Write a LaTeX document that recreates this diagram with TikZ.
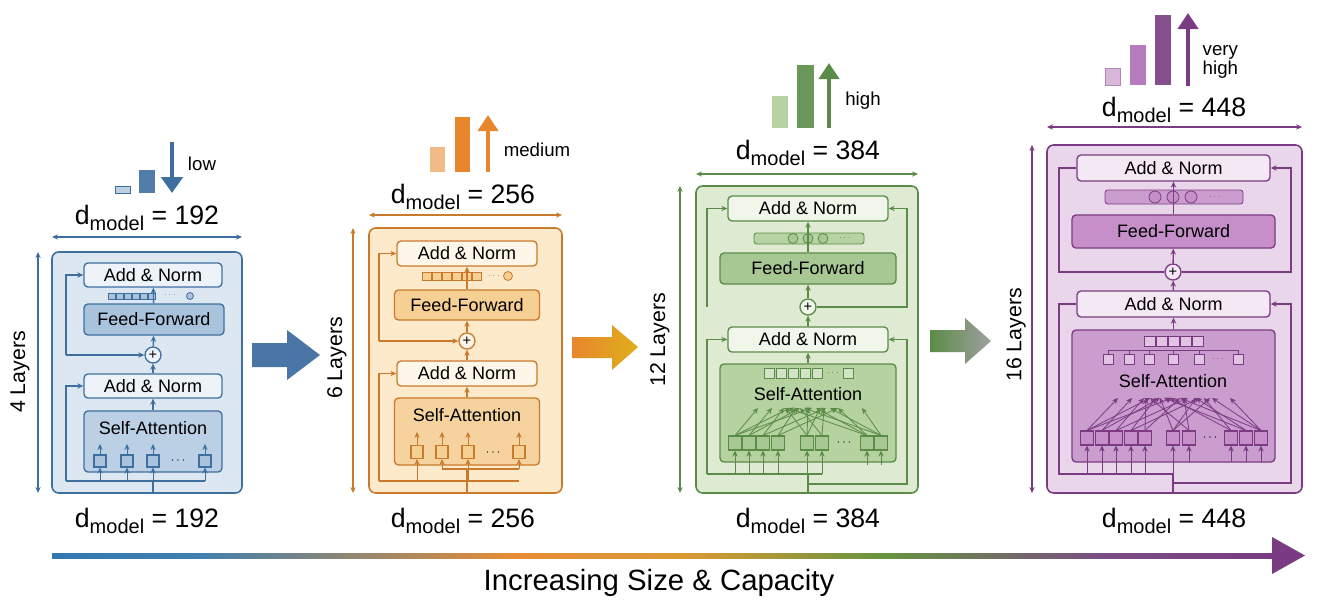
\documentclass[tikz,border=0pt]{standalone}
\usepackage{fontspec}
\setmainfont{Liberation Sans}
\usetikzlibrary{arrows.meta}
\definecolor{bD}{HTML}{3F6F9F}\definecolor{bO}{HTML}{DCE7F2}\definecolor{bA}{HTML}{EEF3F9}\definecolor{bF}{HTML}{A9C3DD}\definecolor{bS}{HTML}{BBD0E5}\definecolor{bL}{HTML}{BCD0E4}
\definecolor{oD}{HTML}{C97A2C}\definecolor{oO}{HTML}{FCEACB}\definecolor{oA}{HTML}{FEF6E8}\definecolor{oF}{HTML}{F6CF93}\definecolor{oS}{HTML}{F6D39E}\definecolor{oL}{HTML}{F2BB85}\definecolor{oB}{HTML}{E8862E}
\definecolor{gD}{HTML}{5B8C47}\definecolor{gO}{HTML}{DEEBD2}\definecolor{gA}{HTML}{F0F6EA}\definecolor{gF}{HTML}{A8C893}\definecolor{gS}{HTML}{B6D2A0}\definecolor{gL}{HTML}{B7D3A3}
\definecolor{pD}{HTML}{7A3B82}\definecolor{pO}{HTML}{EAD6EB}\definecolor{pA}{HTML}{F4E8F4}\definecolor{pF}{HTML}{C68FCA}\definecolor{pS}{HTML}{CB9DCF}\definecolor{pL}{HTML}{D9B6DB}\definecolor{pM}{HTML}{B57BBA}
\pgfdeclarehorizontalshading{rainbow}{100bp}{rgb(0bp)=(0.20,0.47,0.70); rgb(25bp)=(0.20,0.47,0.70); rgb(31bp)=(0.25,0.50,0.68); rgb(44bp)=(0.91,0.55,0.20); rgb(51bp)=(0.85,0.60,0.20); rgb(59bp)=(0.40,0.58,0.25); rgb(68bp)=(0.48,0.30,0.52); rgb(75bp)=(0.48,0.23,0.51); rgb(100bp)=(0.48,0.23,0.51)}
\newcommand{\dm}[1]{d\raisebox{-0.45ex}{\fontsize{15}{15}\selectfont model} = #1}
\tikzset{
 >={Stealth[length=4.5pt,width=4pt]},
 B/.style n args={2}{minimum width=#1*0.75pt, minimum height=#2*0.75pt, inner sep=0pt},
 box/.style={draw=#1D, rounded corners=3pt, line width=1pt},
 outer/.style={draw=#1D, fill=#1O, rounded corners=5pt, line width=1.2pt},
 an/.style={box=#1, fill=#1A, font=\fontsize{13.5}{14}\selectfont},
 ff/.style={box=#1, fill=#1F, font=\fontsize{13.5}{14}\selectfont},
 sa/.style={box=#1, fill=#1S},
 lbl/.style={font=\fontsize{13.5}{14}\selectfont},
 dmt/.style={font=\fontsize{20}{20}\selectfont},
 lay/.style={font=\fontsize{16}{16}\selectfont, rotate=90},
 capt/.style={font=\fontsize{14}{15}\selectfont, align=left},
 plus/.style={circle, draw=#1D, fill=#1A, line width=1pt, minimum size=16*0.75pt, inner sep=0pt, font=\fontsize{11}{11}\selectfont},
 sq/.style={draw=#1D, fill=#1F, line width=0.8pt, minimum size=10*0.75pt, inner sep=0pt},
 ln/.style={draw=#1D, line width=1pt},
 th/.style={draw=#1D, line width=0.6pt},
}
\begin{document}
\begin{tikzpicture}[x=0.75pt,y=-0.75pt]
\useasboundingbox (0,0) rectangle (1319,614);
% ===== bottom arrow
\shade[shading=rainbow] (52,553) rectangle (1275,558);
\fill[pD] (1272,537) -- (1305,555.5) -- (1272,574) -- cycle;
\node[font=\fontsize{22}{22}\selectfont] (title) at (659,583) {Increasing Size \& Capacity};
% ===== transition arrows
\fill[bD!95] (252,343) -- (287,343) -- (287,330) -- (320,355) -- (287,380) -- (287,367) -- (252,367) -- cycle;
\shade[left color=oB, right color=oD!60!yellow] (572,337) -- (612,337) -- (612,325) -- (638,347) -- (612,370) -- (612,358) -- (572,358) -- cycle;
\shade[left color=gD, right color=gray!75] (930,330) -- (965,330) -- (965,318) -- (991,341) -- (965,364) -- (965,352) -- (930,352) -- cycle;

% ================= PANEL 1 (blue)
\node[outer=b, B={190}{241}] (o1) at (147,372.5) {};
\node[dmt] (t1) at (147,218) {\dm{192}};
\node[dmt] (u1) at (147,521) {\dm{192}};
\coordinate (w1l) at (52,237); \coordinate (w1r) at (242,237);
\draw[ln=b,<->] (w1l) -- (w1r);
\coordinate (h1t) at (38,252); \coordinate (h1b) at (38,493);
\draw[ln=b,<->] (h1t) -- (h1b);
\node[lay] (L1) at (20,372) {4 Layers};
\fill[bL, draw=bD, line width=0.6pt] (115,186) rectangle (130,193);
\fill[bD!90] (139,170) rectangle (155,193);
\coordinate (ar1a) at (172,142); \coordinate (ar1b) at (172,193);
\draw[bD, line width=3pt, -{Triangle[length=12pt,width=16pt]}] (ar1a) -- (ar1b);
\node[capt] (c1) at (202,164) {low};
\node[an=b, B={138}{24}] (a1t) at (153,275) {Add \& Norm};
\node[ff=b, B={140}{31}] (f1) at (154,319.5) {Feed-Forward};
\node[plus=b] (p1) at (153,355) {+};
\node[an=b, B={138}{24}] (a1b) at (153,386) {Add \& Norm};
\node[sa=b, B={138}{61}] (s1) at (153,441.5) {};
\node[lbl] (sl1) at (153,428) {Self-Attention};
\foreach \x in {112,120,...,152} \draw[th=b, fill=bF] (\x-3.5,293) rectangle (\x+3.5,299);
\node[font=\tiny] (d1) at (170,295) {$\cdots$};
\draw[th=b, fill=bF] (190,296) circle (3.5);
\draw[ln=b,->] (a1b) -- (p1); \draw[ln=b,->] (p1) -- (f1); \draw[ln=b,->] (f1) -- (a1t);
\draw[ln=b,->] (s1) -- (a1b);
\draw[ln=b,->] (66,355) -- (66,275) -- (a1t.west);
\draw[ln=b,->] (66,355) -- (p1.west);
\draw[ln=b,->] (66,481) -- (66,386) -- (a1b.west);
\draw[ln=b] (66,481) -- (205,481);
\draw[ln=b] (153,493) -- (153,481);
\foreach[count=\i] \x in {100,127,153,205}{
  \node[sq=b, B={12}{12}] (q1\i) at (\x,461) {};
  \draw[th=b,->] (\x,481) -- (q1\i.south);
  \draw[th=b,->] (q1\i.north) -- (\x,444);
}
\node[font=\small] (e1) at (178,461) {$\cdots$};

% ================= PANEL 2 (orange)
\node[outer=o, B={193}{265}] (o2) at (465.5,360.5) {};
\node[dmt] (t2) at (463,197) {\dm{256}};
\node[dmt] (u2) at (463,521) {\dm{256}};
\coordinate (w2l) at (369,215); \coordinate (w2r) at (562,215);
\draw[ln=o,<->] (w2l) -- (w2r);
\coordinate (h2t) at (353,228); \coordinate (h2b) at (353,493);
\draw[ln=o,<->] (h2t) -- (h2b);
\node[lay] (L2) at (337,358) {6 Layers};
\fill[oL] (430,147) rectangle (445,172);
\fill[oB] (455,117) rectangle (470,172);
\coordinate (ar2a) at (488,172); \coordinate (ar2b) at (488,115);
\draw[oB, line width=3pt, -{Triangle[length=12pt,width=15pt]}] (ar2a) -- (ar2b);
\node[capt] (c2) at (537,150) {medium};
\node[an=o, B={140}{25}] (a2t) at (467,253.5) {Add \& Norm};
\node[ff=o, B={145}{30}] (f2) at (467,305) {Feed-Forward};
\node[plus=o] (p2) at (467,341) {+};
\node[an=o, B={140}{25}] (a2b) at (467,373.5) {Add \& Norm};
\node[sa=o, B={145}{67}] (s2) at (467,431.5) {};
\node[lbl] (sl2) at (467,415) {Self-Attention};
\foreach \x in {427,437,...,477} \draw[th=o, fill=oF] (\x-4.5,272) rectangle (\x+4.5,280);
\node[font=\tiny] (d2) at (494,276) {$\cdots$};
\draw[th=o, fill=oF] (508,276) circle (4.5);
\draw[ln=o,->] (a2b) -- (p2); \draw[ln=o,->] (p2) -- (f2); \draw[ln=o,->] (f2) -- (a2t);
\draw[ln=o,->] (s2) -- (a2b);
\draw[ln=o,->] (379,341) -- (379,253.5) -- (a2t.west);
\draw[ln=o,->] (379,341) -- (p2.west);
\draw[ln=o,->] (379,481) -- (379,373.5) -- (a2b.west);
\draw[ln=o] (379,481) -- (519,481);
\draw[ln=o] (442,469) -- (519,469);
\draw[ln=o] (467,493) -- (467,469);
\foreach[count=\i] \x/\yb in {417/481,442/469,468/481,519/469}{
  \node[sq=o, B={12}{13}] (q2\i) at (\x,452) {};
  \draw[th=o,->] (\x,\yb) -- (q2\i.south);
  \draw[th=o,->] (q2\i.north) -- (\x,432);
}
\node[font=\small] (e2) at (493,453) {$\cdots$};

% ================= PANEL 3 (green)
\node[outer=g, B={222}{307}] (o3) at (807,339.5) {};
\node[dmt] (t3) at (808,153) {\dm{384}};
\node[dmt] (u3) at (808,521) {\dm{384}};
\coordinate (w3l) at (696,174); \coordinate (w3r) at (918,174);
\draw[ln=g,<->] (w3l) -- (w3r);
\coordinate (h3t) at (680,186); \coordinate (h3b) at (680,493);
\draw[ln=g,<->] (h3t) -- (h3b);
\node[lay] (L3) at (660,340) {12 Layers};
\fill[gL] (772,96) rectangle (788,128);
\fill[gD!90] (797,65) rectangle (814,128);
\coordinate (ar3a) at (829,128); \coordinate (ar3b) at (829,63);
\draw[gD, line width=3pt, -{Triangle[length=12pt,width=15pt]}] (ar3a) -- (ar3b);
\node[capt] (c3) at (863,101) {high};
\node[an=g, B={160}{25}] (a3t) at (808,208.5) {Add \& Norm};
\node[ff=g, B={176}{31}] (f3) at (808,268.5) {Feed-Forward};
\node[plus=g] (p3) at (808,307) {+};
\node[an=g, B={160}{25}] (a3b) at (808,339.5) {Add \& Norm};
\node[sa=g, B={176}{98}] (s3) at (808,413) {};
\node[lbl] (sl3) at (808,394) {Self-Attention};
\draw[th=g, fill=gL, rounded corners=2pt] (754,233) rectangle (864,244);
\foreach \x in {793,808,823} \draw[th=g, fill=gF] (\x,238.5) circle (5);
\node[font=\tiny] (d3) at (845,238) {$\cdots$};
\foreach \x in {769,781,793,805,817} \draw[th=g, fill=gS!60] (\x-5,368) rectangle (\x+5,378);
\node[font=\tiny] (dd3) at (833,373) {$\cdots$};
\draw[th=g, fill=gS!60] (843,368) rectangle (853,378);
\draw[ln=g,->] (a3b) -- (p3); \draw[ln=g,->] (p3) -- (f3); \draw[ln=g,->] (f3) -- (a3t);
\draw[ln=g,->] (s3) -- (a3b);
\draw[ln=g,->] (707,307) -- (707,208.5) -- (a3t.west);
\draw[ln=g,<-] (a3t.east) -- (907,208.5) -- (907,307) -- (p3.east);
\draw[ln=g,->] (707,474) -- (707,339.5) -- (a3b.west);
\draw[ln=g,<-] (a3b.east) -- (907,339.5) -- (907,484) -- (808,484);
\draw[ln=g] (707,474) -- (822,474);
\draw[ln=g] (808,493) -- (808,474);
\foreach[count=\i] \x in {735,749,763,778,807,822,867,881}{
  \node[sq=g, B={13}{14}] (q3\i) at (\x,443) {};
}
\foreach \i in {1,2,3,4,5,6} \draw[th=g,->] (q3\i.south|-0,474) -- (q3\i.south);
\foreach \i in {7,8} \draw[th=g,->] (q3\i.south|-0,465) -- (q3\i.south);
\node[font=\small] (e3) at (844,443) {$\cdots$};
\foreach \i/\t in {1/758,1/790,1/812,2/772,2/800,3/784,3/826,4/796,4/838,5/786,5/808,5/820,6/800,6/824,7/788,7/816,7/838,8/804,8/830,8/862}
  \draw[th=g,->] (q3\i.north) -- (\t,408);

% ================= PANEL 4 (purple)
\node[outer=p, B={255}{348}] (o4) at (1174.5,319) {};
\node[dmt] (t4) at (1174,110) {\dm{448}};
\node[dmt] (u4) at (1174,521) {\dm{448}};
\coordinate (w4l) at (1047,127); \coordinate (w4r) at (1302,127);
\draw[ln=p,<->] (w4l) -- (w4r);
\coordinate (h4t) at (1032,145); \coordinate (h4b) at (1032,493);
\draw[ln=p,<->] (h4t) -- (h4b);
\node[lay] (L4) at (1016,335) {16 Layers};
\fill[pL, draw=pD!60, line width=0.5pt] (1105,68) rectangle (1120,85);
\fill[pM] (1130,45) rectangle (1146,85);
\fill[pD!90] (1155,15) rectangle (1171,85);
\coordinate (ar4a) at (1188,86); \coordinate (ar4b) at (1188,13);
\draw[pD, line width=3pt, -{Triangle[length=12pt,width=15pt]}] (ar4a) -- (ar4b);
\node[capt, anchor=west] (c4) at (1198,62) {very\\[-1pt]high};
\node[an=p, B={193}{26}] (a4t) at (1173.5,168) {Add \& Norm};
\node[ff=p, B={203}{33}] (f4) at (1173.5,231.5) {Feed-Forward};
\node[plus=p] (p4) at (1173,272) {+};
\node[an=p, B={193}{26}] (a4b) at (1173.5,304) {Add \& Norm};
\node[sa=p, B={203}{132}] (s4) at (1173.5,396) {};
\node[lbl] (sl4) at (1173,381) {Self-Attention};
\draw[th=p, fill=pS, rounded corners=2pt] (1105,190) rectangle (1243,204);
\foreach \x in {1155,1173,1191} \draw[th=p, fill=pF] (\x,197) circle (6);
\node[font=\tiny] (d4) at (1215,197) {$\cdots$};
\foreach \x in {1150,1162,1174,1186,1198} \draw[th=p, fill=pS!60] (\x-5.5,336) rectangle (\x+5.5,346);
\foreach \x in {1108,1129,1149,1173,1199,1238} {
  \draw[th=p, fill=pS!60] (\x-5,354) rectangle (\x+5,364);}
\draw[th=p] (1108,354) -- (1108,350) -- (1238,350);
\foreach \x in {1129,1149,1173,1199,1238} \draw[th=p] (\x,350) -- (\x,354);
\node[font=\tiny] (dd4) at (1218,359) {$\cdots$};
\draw[ln=p,->] (a4b) -- (p4); \draw[ln=p,->] (p4) -- (f4); \draw[ln=p,->] (f4) -- (a4t);
\draw[ln=p,->] (s4) -- (a4b);
\draw[ln=p] (a4t.west) -- (1059,168) -- (1059,272) -- (p4.west);
\draw[ln=p,<-] (a4t.east) -- (1291,168) -- (1291,272) -- (p4.east);
\draw[ln=p] (a4b.west) -- (1059,304) -- (1059,474) -- (1173,474);
\draw[ln=p,<-] (a4b.east) -- (1291,304) -- (1291,483) -- (1173,483);
\draw[ln=p] (1173,493) -- (1173,474);
\foreach[count=\i] \x in {1087,1102,1116,1131,1145,1173,1189,1231,1246,1261}{
  \node[sq=p, B={13}{14}] (q4\i) at (\x,438) {};
}
\foreach \i in {1,2,3,4,5,6} \draw[th=p,->] (q4\i.south|-0,474) -- (q4\i.south);
\foreach \i in {7,8,9,10} \draw[th=p,->] (q4\i.south|-0,462) -- (q4\i.south);
\node[font=\small] (e4) at (1210,438) {$\cdots$};
\foreach \i/\t in {1/1118,1/1150,1/1172,2/1132,2/1160,3/1144,3/1188,4/1156,4/1200,5/1146,5/1180,6/1160,6/1196,6/1210,7/1150,7/1184,8/1170,8/1204,9/1164,9/1196,10/1180,10/1230,10/1212}
  \draw[th=p,->] (q4\i.north) -- (\t,398);
\end{tikzpicture}
\end{document}
